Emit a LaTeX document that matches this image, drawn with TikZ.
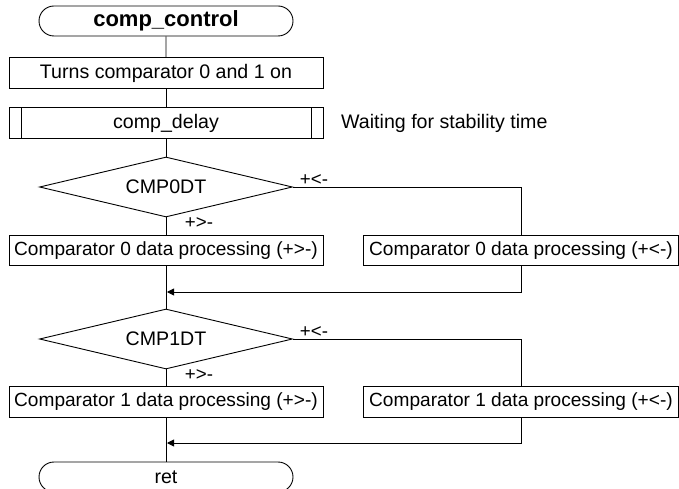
\documentclass[tikz,border=0pt]{standalone}
\usepackage{fontspec}
\setmainfont{Liberation Sans}
\usetikzlibrary{shapes.geometric,shapes.misc,arrows.meta}
\begin{document}
\begin{tikzpicture}[x=1pt,y=-1pt,
  every node/.style={font=\fontsize{19.6}{22}\selectfont},
  box/.style={draw, line width=0.9pt, rectangle, minimum width=314pt, minimum height=30.5pt, inner sep=0pt},
  cbox/.style={box, font=\fontsize{19.1}{22}\selectfont},
  term/.style={draw, rounded rectangle, minimum width=254pt, minimum height=30pt, inner sep=0pt, line width=0.9pt},
  dec/.style={draw, diamond, aspect=4, minimum width=253pt, minimum height=60pt, inner sep=0pt, line width=0.9pt},
  lbl/.style={inner sep=0pt, font=\fontsize{18.7}{20}\selectfont},
  flow/.style={line width=0.9pt},
  arr/.style={flow, -{Triangle[length=7pt,width=7pt]}}
]
\clip (0,0) rectangle (679,489);

\node[term, font=\bfseries\fontsize{22}{24}\selectfont] (start) at (166,21) {comp\_control};
\node[box] (init) at (166,73) {Turns comparator 0 and 1 on};
\node[box] (delay) at (166,123) {comp\_delay};
\draw[flow] ([xshift=13pt]delay.north west) -- ([xshift=13pt]delay.south west);
\draw[flow] ([xshift=-12pt]delay.north east) -- ([xshift=-12pt]delay.south east);
\node[anchor=west, inner sep=0pt] (note) at (341,123) {Waiting for stability time};

\node[dec] (d0) at (166,187) {CMP0DT};
\node[cbox] (p0a) at (166,250.5) {Comparator 0 data processing (+>-)};
\node[cbox, minimum width=315pt] (p0b) at (521,250.5) {Comparator 0 data processing (+<-)};
\coordinate (m0) at (167,292);
\node[lbl] (l0b) at (314,180) {+<-};
\node[lbl] (l0a) at (199,223) {+>-};

\node[dec] (d1) at (166,339) {CMP1DT};
\node[cbox] (p1a) at (166,402) {Comparator 1 data processing (+>-)};
\node[cbox, minimum width=315pt] (p1b) at (521,402) {Comparator 1 data processing (+<-)};
\coordinate (m1) at (167,443);
\node[lbl] (l1b) at (314,332) {+<-};
\node[lbl] (l1a) at (199,375) {+>-};

\node[term] (ret) at (166,477) {ret};

\draw[flow] (start) -- (init);
\draw[flow] (init) -- (delay);
\draw[flow] (delay) -- (d0);
\draw[flow] (d0) -- (p0a);
\draw[flow] (d0.east) -| (p0b.north);
\draw[flow] (p0a) -- (d1);
\draw[arr] (p0b.south) |- (m0);
\draw[flow] (d1) -- (p1a);
\draw[flow] (d1.east) -| (p1b.north);
\draw[flow] (p1a) -- (ret);
\draw[arr] (p1b.south) |- (m1);
\end{tikzpicture}
\end{document}
